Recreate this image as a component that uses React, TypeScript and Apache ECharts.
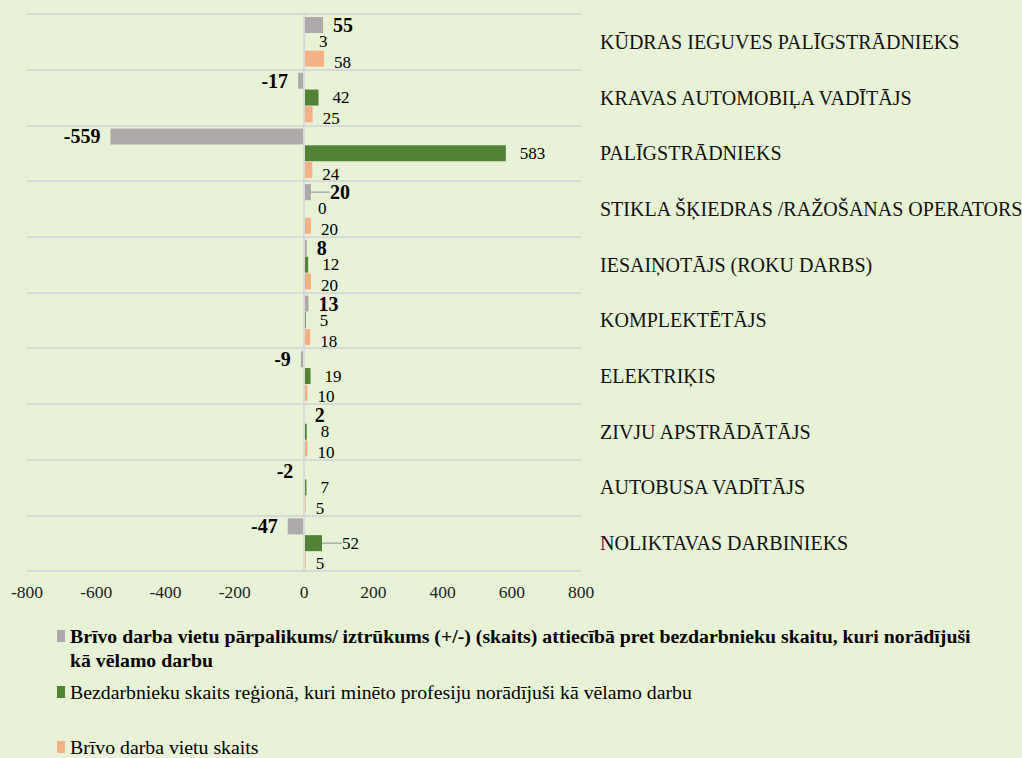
import React, { useEffect, useRef } from "react";
import * as echarts from "echarts";

const categories = [
  "KŪDRAS IEGUVES PALĪGSTRĀDNIEKS",
  "KRAVAS AUTOMOBIĻA VADĪTĀJS",
  "PALĪGSTRĀDNIEKS",
  "STIKLA ŠĶIEDRAS /RAŽOŠANAS OPERATORS",
  "IESAIŅOTĀJS (ROKU DARBS)",
  "KOMPLEKTĒTĀJS",
  "ELEKTRIĶIS",
  "ZIVJU APSTRĀDĀTĀJS",
  "AUTOBUSA VADĪTĀJS",
  "NOLIKTAVAS DARBINIEKS",
];
const surplus = [55, -17, -559, 20, 8, 13, -9, 2, -2, -47];
const unemployed = [3, 42, 583, 0, 12, 5, 19, 8, 7, 52];
const vacancies = [58, 25, 24, 20, 20, 18, 10, 10, 5, 5];
const xTicks = { min: -800, max: 800, interval: 200 };

const seriesNames = [
  "Brīvo darba vietu pārpalikums/ iztrūkums (+/-) (skaits) attiecībā pret bezdarbnieku skaitu, kuri norādījuši kā vēlamo darbu",
  "Bezdarbnieku skaits reģionā, kuri minēto profesiju norādījuši kā vēlamo darbu",
  "Brīvo darba vietu skaits",
];
const firstLegendBreak = " kā vēlamo darbu";

const FONT = "Liberation Serif";

export default function App() {
  const ref = useRef<HTMLDivElement>(null);
  useEffect(() => {
    if (!ref.current) return;
    const chart = echarts.init(ref.current, null, { renderer: "svg" });
    const labelBase = { show: true, fontFamily: FONT, fontSize: 17, color: "#000" };
    const leader = { show: true, lineStyle: { color: "#aeaaaa", width: 1.5 } };
    const legendCommon = {
      left: 57,
      padding: 0,
      itemWidth: 8,
      itemHeight: 12,
      itemGap: 5,
      icon: "rect",
    };
    chart.setOption({
      animation: false,
      backgroundColor: "#e8f2d6",
      grid: { left: 27, right: 441, top: 14, bottom: 187, outerBoundsMode: "none", containLabel: false },
      xAxis: {
        type: "value",
        min: xTicks.min,
        max: xTicks.max,
        interval: xTicks.interval,
        axisLine: { show: false },
        axisTick: { show: false },
        splitLine: { show: false },
        axisLabel: { fontFamily: FONT, fontSize: 17.5, color: "#222", margin: 12 },
      },
      yAxis: {
        type: "category",
        inverse: true,
        position: "right",
        data: categories,
        axisLine: { show: false },
        axisTick: { show: true, length: 3, lineStyle: { color: "#c8cbd8" } },
        splitLine: { show: true, lineStyle: { color: "#d9d9d9", width: 2 } },
        axisLabel: { fontFamily: FONT, fontSize: 20, color: "#111", margin: 19 },
      },
      legend: [
        {
          ...legendCommon,
          data: [seriesNames[0]],
          top: 626,
          formatter: (n: string) => n.replace(firstLegendBreak, ""),
          textStyle: { fontFamily: FONT, fontSize: 19.8, fontWeight: "bold", color: "#000", lineHeight: 20 },
        },
        {
          ...legendCommon,
          data: [seriesNames[1]],
          top: 682,
          textStyle: { fontFamily: FONT, fontSize: 19.8, color: "#000", lineHeight: 20 },
        },
        {
          ...legendCommon,
          data: [seriesNames[2]],
          top: 737,
          textStyle: { fontFamily: FONT, fontSize: 19.8, color: "#000", lineHeight: 20 },
        },
      ],
      graphic: [
        {
          type: "text",
          left: 70,
          top: 650,
          style: {
            text: firstLegendBreak.trim(),
            fontFamily: FONT,
            fontSize: 19.8,
            fontWeight: "bold",
            fill: "#000",
          },
        },
      ],
      series: [
        {
          name: seriesNames[0],
          type: "bar",
          barWidth: 16,
          barGap: "5%",
          itemStyle: { color: "#aeaaaa" },
          data: surplus.map((v, i) => ({
            value: v,
            label: { position: v < 0 ? "left" : "right" },
            ...(i === 3 ? { labelLine: leader } : {}),
          })),
          label: { ...labelBase, fontSize: 20, fontWeight: "bold", distance: 10, offset: [0, 2] },
          labelLayout: (p: any) => (p.dataIndex === 3 ? { dx: 9 } : {}),
          markLine: {
            silent: true,
            symbol: "none",
            label: { show: false },
            lineStyle: { color: "#d9d9d9", width: 2, type: "solid" },
            data: [{ xAxis: 0 }],
          },
        },
        {
          name: seriesNames[1],
          type: "bar",
          barWidth: 16,
          barGap: "5%",
          itemStyle: { color: "#548235" },
          data: unemployed.map((v, i) => ({
            value: v,
            ...(i === 9 ? { labelLine: leader } : {}),
          })),
          label: { ...labelBase, position: "right", distance: 14, offset: [0, 2] },
          labelLayout: (p: any) => (p.dataIndex === 9 ? { dx: 6 } : {}),
        },
        {
          name: seriesNames[2],
          type: "bar",
          barWidth: 16,
          barGap: "5%",
          itemStyle: { color: "#f4b183" },
          data: vacancies,
          label: { ...labelBase, position: "right", distance: 10, offset: [0, 4] },
        },
      ],
    });
    return () => chart.dispose();
  }, []);
  return (
    <div
      ref={ref}
      style={{ position: "fixed", left: 0, top: 0, width: 1022, height: 758 }}
    />
  );
}
